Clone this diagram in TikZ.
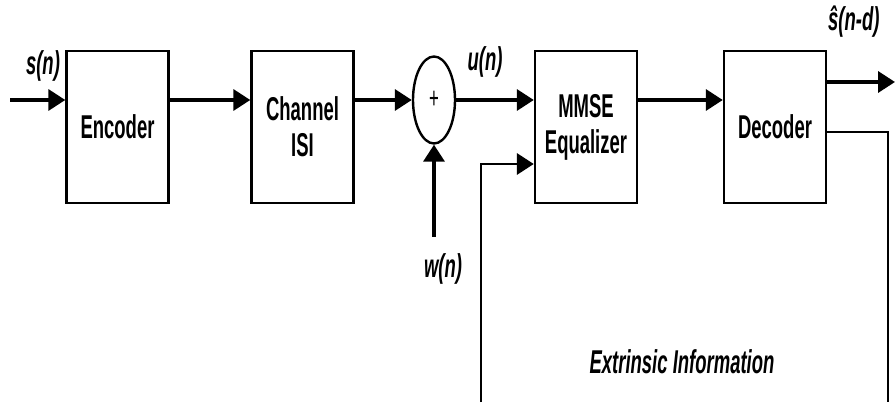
\documentclass[tikz,border=0pt]{standalone}
\usepackage{fontspec}
\newfontfamily\blockfont{Liberation Sans}[FakeStretch=0.56]
\usetikzlibrary{shapes.geometric, arrows.meta, calc}

\tikzset{
  block/.style={draw, line width=2.4pt, minimum width=102pt, minimum height=152pt,
    align=center, font=\blockfont\bfseries\fontsize{33}{36}\selectfont},
  sumnode/.style={draw, ellipse, line width=2.4pt, minimum width=42pt, minimum height=87pt,
    inner sep=0pt, font=\blockfont\fontsize{30}{30}\selectfont},
  sig/.style={line width=3.5pt, -{Triangle[length=17pt,width=21pt]}},
  fb/.style={line width=2pt},
  lbl/.style={font=\blockfont\bfseries\itshape\fontsize{33}{36}\selectfont, inner sep=0pt}
}

\begin{document}
\begin{tikzpicture}[x=1pt, y=1pt]
    \useasboundingbox (0,0) rectangle (895,402);
    % Blocks (y = 402 - pixel row)
    \node[block] (enc)  at (117.5,275) {Encoder};
    \node[block] (chan) at (302.5,275) {Channel\\ISI};
    \node[sumnode] (sum) at (434,302) {+};
    \node[block] (eq)   at (586,275) {MMSE\\Equalizer};
    \node[block] (dec)  at (775,275) {Decoder};
    % Helper points
    \coordinate (in)   at (10,302);
    \coordinate (out)  at (895,320);
    \coordinate (wsrc) at (434,165);
    \coordinate (fbl)  at (481,0);
    \coordinate (fbr)  at (888,0);
    % Forward path
    \draw[sig] (in) -- (enc.west |- in);
    \draw[sig] (enc.east |- in) -- (chan.west |- in);
    \draw[sig] (chan.east |- sum) -- (sum.west);
    \draw[sig] (sum.east) -- (eq.west |- sum);
    \draw[sig] (eq.east |- sum) -- (dec.west |- sum);
    \draw[sig] (dec.east |- out) -- (out);
    \draw[sig] (wsrc) -- (sum.south);
    % Extrinsic feedback
    \draw[fb] (dec.east |- 0,270) -| (fbr);
    \draw[fb] (fbl) |- ($(eq.west)+(-12,-37)$);
    \draw[sig] ($(eq.west)+(-12,-37)$) -- ($(eq.west)+(0,-37)$);
    % Labels
    \node[lbl] (ls) at (43,336) {s(n)};
    \node[lbl] (lu) at (485,340) {u(n)};
    \node[lbl] (lw) at (443,133) {w(n)};
    \node[lbl, anchor=west] (ld) at (828,380) {\^{s}(n-d)};
    \node[lbl] (lext) at (682,40) {Extrinsic Information};
\end{tikzpicture}
\end{document}
